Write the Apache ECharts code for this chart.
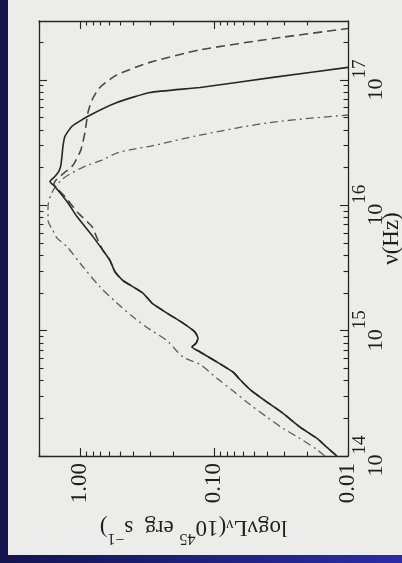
<!DOCTYPE html>
<html>
<head>
<meta charset="utf-8">
<script src="https://cdn.jsdelivr.net/npm/echarts@6/dist/echarts.min.js"></script>
<style>
  html, body { margin: 0; padding: 0; }
  body { width: 402px; height: 563px; background: linear-gradient(to right, #14144f, #2c2ca6); position: relative; overflow: hidden; }
  #panel { position: absolute; left: 8px; top: 0; width: 394px; height: 555px; background: #ececea; }
  #chart { position: absolute; left: 0; top: 0; width: 402px; height: 563px; }
</style>
</head>
<body>
<div id="panel"></div>
<div id="chart"></div>
<script>
// frequency axis (log10 of nu in Hz), plotted vertically
const nuDecades = [14, 15, 16, 17];
const NU_MIN = 14;
const NU_MAX = 17.47;

// luminosity axis (10^45 erg/s), plotted horizontally, decreasing to the right
const lumTicks = [0.01, 0.1, 1];
const lumTickLabels = ['0.01', '0.10', '1.00'];
const L_MIN = 0.01;
const L_MAX = 2.02;

// solid curve
const solidNu = [14.00, 14.07, 14.14, 14.23, 14.34, 14.43, 14.53, 14.61, 14.67, 14.75,
  14.83, 14.87, 14.90, 14.94, 14.99, 15.06, 15.14, 15.22, 15.30, 15.40,
  15.47, 15.56, 15.64, 15.75, 15.91, 16.02, 16.15, 16.19, 16.23, 16.27,
  16.32, 16.39, 16.47, 16.55, 16.63, 16.71, 16.82, 16.90, 16.94, 17.02, 17.10];
const solidL = [0.0121, 0.0144, 0.0170, 0.0228, 0.0305, 0.0402, 0.0538, 0.0640, 0.0722, 0.0950,
  0.127, 0.146, 0.136, 0.1315, 0.139, 0.170, 0.224, 0.290, 0.339, 0.478,
  0.548, 0.597, 0.673, 0.800, 1.052, 1.230, 1.539, 1.675, 1.539, 1.436,
  1.387, 1.362, 1.339, 1.294, 1.148, 0.871, 0.530, 0.301, 0.127, 0.0363, 0.0100];

// dashed curve (runs on top of the solid one below ~10^15.6 Hz)
const dashedNu = [14.00, 14.07, 14.14, 14.23, 14.34, 14.43, 14.53, 14.61, 14.67, 14.75,
  14.83, 14.87, 14.90, 14.94, 14.99, 15.06, 15.14, 15.22, 15.30, 15.40,
  15.47, 15.56, 15.64, 15.74, 15.83, 15.94, 16.07, 16.17, 16.20, 16.25,
  16.32, 16.44, 16.58, 16.74, 16.84, 16.94, 17.04, 17.14, 17.24, 17.33, 17.41];
const dashedL = [0.0121, 0.0144, 0.0170, 0.0228, 0.0305, 0.0402, 0.0538, 0.0640, 0.0722, 0.0950,
  0.127, 0.146, 0.136, 0.1315, 0.139, 0.170, 0.224, 0.290, 0.339, 0.478,
  0.548, 0.597, 0.673, 0.747, 0.813, 1.035, 1.294, 1.564, 1.510, 1.340,
  1.127, 0.985, 0.918, 0.871, 0.813, 0.710, 0.530, 0.301, 0.127, 0.0363, 0.0100];

// dash-dot curve
const dashDotNu = [14.00, 14.05, 14.14, 14.22, 14.31, 14.41, 14.52, 14.62, 14.73, 14.79,
  14.92, 15.01, 15.11, 15.22, 15.35, 15.51, 15.67, 15.74, 15.80, 15.88,
  15.99, 16.10, 16.19, 16.24, 16.31, 16.36, 16.42, 16.45, 16.47, 16.56, 16.66, 16.72];
const dashDotL = [0.0149, 0.0170, 0.0228, 0.0305, 0.0402, 0.0538, 0.0722, 0.095, 0.127, 0.170,
  0.224, 0.301, 0.402, 0.530, 0.710, 0.950, 1.25, 1.486, 1.59, 1.73,
  1.73, 1.62, 1.41, 1.23, 0.918, 0.686, 0.520, 0.389, 0.301, 0.127, 0.0382, 0.0100];

const FONT = '"Liberation Serif", "DejaVu Serif", serif';
const INK = '#262626';
const TEXT = '#1e1e1e';

const toXY = (nu, lum) => nu.map((n, i) => [Math.log10(lum[i]), n]);

// decade ticks and the 2..9 ticks in between, in log10 units
const lumMajor = lumTicks.map(t => Math.log10(t));
const lumMinor = [];
[-2, -1, 0].forEach(d => {
  for (let k = 2; k <= 9; k++) {
    const v = d + Math.log10(k);
    if (v <= Math.log10(L_MAX)) lumMinor.push(v);
  }
});
const nuMinor = [];
nuDecades.forEach(d => {
  for (let k = 2; k <= 9; k++) {
    const v = d + Math.log10(k);
    if (v <= NU_MAX) nuMinor.push(v);
  }
});

function lumLabel(v) {
  const i = lumMajor.findIndex(t => Math.abs(t - v) < 1e-6);
  return i >= 0 ? lumTickLabels[i] : '';
}

function xAx(pos, ticks, len, showLine, labels) {
  return {
    type: 'value', position: pos, min: Math.log10(L_MIN), max: Math.log10(L_MAX), inverse: true,
    splitLine: { show: false },
    axisLine: { show: showLine, onZero: false, lineStyle: { color: INK, width: 1.3 } },
    axisTick: { show: true, inside: true, length: len, customValues: ticks, lineStyle: { color: INK, width: 1.1 } },
    axisLabel: labels ? {
      show: true, customValues: lumMajor, rotate: 90, margin: 7,
      formatter: lumLabel, fontFamily: FONT, fontSize: 23, color: TEXT
    } : { show: false }
  };
}

function yAx(pos, ticks, len, showLine, labels) {
  return {
    type: 'value', position: pos, min: NU_MIN, max: NU_MAX,
    splitLine: { show: false },
    axisLine: { show: showLine, onZero: false, lineStyle: { color: INK, width: 1.3 } },
    axisTick: { show: true, inside: true, length: len, customValues: ticks, lineStyle: { color: INK, width: 1.1 } },
    axisLabel: labels ? {
      show: true, customValues: nuDecades, rotate: 90, margin: 3,
      formatter: v => '{b|10}{s|' + v + '}',
      rich: {
        b: { fontFamily: FONT, fontSize: 22, color: TEXT, lineHeight: 36, verticalAlign: 'bottom' },
        s: { fontFamily: FONT, fontSize: 19, color: TEXT, lineHeight: 15, verticalAlign: 'top' }
      }
    } : { show: false }
  };
}

const xBottom = xAx('bottom', lumMajor, 8, true, true);
xBottom.name = '{t|logνL}{sub|ν}{t|(10}{sup|45}{t| erg  s}{sup|−1}{t|)}';
xBottom.nameLocation = 'middle';
xBottom.nameGap = 60;
xBottom.nameRotate = 180;
xBottom.nameTextStyle = {
  rich: {
    t: { fontFamily: FONT, fontSize: 23, color: TEXT, lineHeight: 30, verticalAlign: 'bottom' },
    sup: { fontFamily: FONT, fontSize: 16, color: TEXT, lineHeight: 13, verticalAlign: 'top' },
    sub: { fontFamily: FONT, fontSize: 16, color: TEXT, lineHeight: 13, verticalAlign: 'bottom' }
  }
};

const yRight = yAx('right', nuDecades, 8, true, true);
yRight.name = 'ν(Hz)';
yRight.nameLocation = 'middle';
yRight.nameGap = 32;
yRight.nameMoveOverlap = false;
yRight.nameRotate = 90;
yRight.nameTextStyle = { fontFamily: FONT, fontSize: 23, color: TEXT };

const chart = echarts.init(document.getElementById('chart'), null, { renderer: 'canvas' });
chart.setOption({
  animation: false,
  backgroundColor: 'transparent',
  grid: { left: 39, right: 54, top: 21, bottom: 107, containLabel: false, outerBoundsMode: 'none' },
  xAxis: [
    xBottom,
    xAx('bottom', lumMinor, 4.5, false, false),
    xAx('top', lumMajor, 8, true, false),
    xAx('top', lumMinor, 4.5, false, false)
  ],
  yAxis: [
    yRight,
    yAx('right', nuMinor, 4.5, false, false),
    yAx('left', nuDecades, 8, true, false),
    yAx('left', nuMinor, 4.5, false, false)
  ],
  series: [
    {
      name: 'dashed', type: 'line', xAxisIndex: 0, yAxisIndex: 0,
      data: toXY(dashedNu, dashedL), symbol: 'none', smooth: 0.2, z: 2,
      lineStyle: { color: '#484848', width: 1.6, type: [9, 5] }
    },
    {
      name: 'dashdot', type: 'line', xAxisIndex: 0, yAxisIndex: 0,
      data: toXY(dashDotNu, dashDotL), symbol: 'none', smooth: 0.3, z: 2,
      lineStyle: { color: '#5c5c5c', width: 1.3, type: [8, 4, 2, 4] }
    },
    {
      name: 'solid', type: 'line', xAxisIndex: 0, yAxisIndex: 0,
      data: toXY(solidNu, solidL), symbol: 'none', smooth: 0.15, z: 3,
      lineStyle: { color: INK, width: 1.6 }
    }
  ]
});
</script>
</body>
</html>
